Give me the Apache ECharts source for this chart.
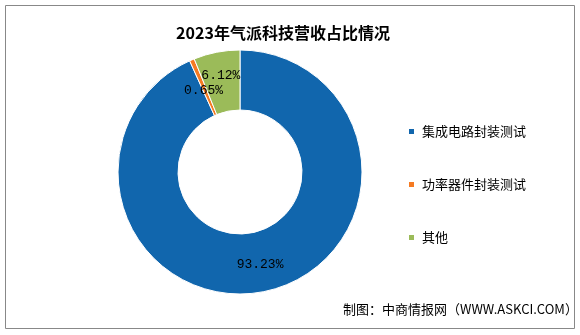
<!DOCTYPE html>
<html><head><meta charset="utf-8">
<script src="https://cdn.jsdelivr.net/npm/echarts@6/dist/echarts.min.js"></script>
<style>html,body{margin:0;padding:0;background:#fff}#c{width:580px;height:335px}</style>
</head><body><div id="c"></div>
<script>
const titleText = '2023年气派科技营收占比情况';
const categories = ['集成电路封装测试', '功率器件封装测试', '其他'];
const values = [93.23, 0.65, 6.12];
const colors = ['#1166AD', '#F57A22', '#9BBB59'];
const sourceText = '制图：中商情报网（WWW.ASKCI.COM）';

const labelShift = [[0, 0], [1, 6], [-1, -3]];

const chart = echarts.init(document.getElementById('c'));
chart.setOption({
  animation: false,
  backgroundColor: '#fff',
  title: {
    text: titleText, left: 278, top: 20, textAlign: 'center',
    textStyle: {fontFamily: 'Noto Sans CJK SC', fontSize: 16, fontWeight: 'bold', color: '#000'}
  },
  legend: {
    orient: 'vertical', left: 402, top: 120, itemGap: 40,
    itemWidth: 7, itemHeight: 7, icon: 'rect',
    textStyle: {fontFamily: 'Noto Sans CJK SC', fontSize: 13, color: '#000', padding: [0, 0, 0, 2]},
    data: categories
  },
  graphic: [
    {type: 'rect', shape: {x: 5.5, y: 5.5, width: 569, height: 323}, style: {fill: null, stroke: '#888', lineWidth: 1}, silent: true},
    {type: 'text', left: 343, top: 303, style: {text: sourceText, font: '13px "Noto Sans CJK SC"', fill: '#000'}}
  ],
  series: [{
    type: 'pie', center: [240, 172], radius: [62, 122],
    startAngle: 90, clockwise: true, avoidLabelOverlap: false,
    labelLayout: p => ({hideOverlap: false, dx: labelShift[p.dataIndex][0], dy: labelShift[p.dataIndex][1]}),
    itemStyle: {borderColor: '#fff', borderWidth: 1},
    label: {show: true, position: 'inside', formatter: p => p.value.toFixed(2) + '%',
      fontFamily: 'Liberation Mono', fontSize: 13, color: '#000'},
    labelLine: {show: false},
    data: categories.map((n, i) => ({name: n, value: values[i], itemStyle: {color: colors[i]}}))
  }]
});
</script></body></html>
